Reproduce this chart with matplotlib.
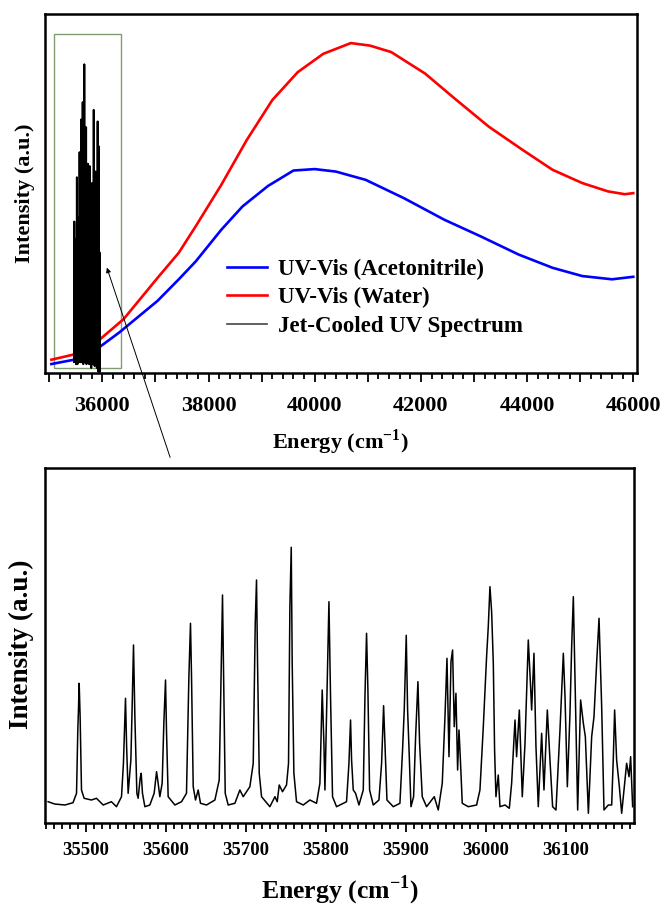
import matplotlib
matplotlib.use("Agg")
import matplotlib.pyplot as plt
from matplotlib.ticker import MultipleLocator, FuncFormatter
from matplotlib.patches import Rectangle

plt.rcParams['font.family'] = ['Liberation Serif', 'DejaVu Serif']
plt.rcParams['font.weight'] = 'bold'
plt.rcParams['mathtext.fontset'] = 'custom'
plt.rcParams['mathtext.rm'] = 'Liberation Serif:bold'
plt.rcParams['mathtext.bf'] = 'Liberation Serif:bold'

# UV-Vis absorption (a.u.)
acn_x = [35040, 35680, 36320, 37040, 37440, 37760, 38240, 38640, 39120, 39600, 40000,
         40400, 40960, 41680, 42440, 43120, 43840, 44480, 45040, 45600, 46000]
acn_y = [2.5, 4.3, 11.3, 20.1, 26.1, 31.1, 39.9, 46.4, 52.1, 56.4, 56.8,
         56.1, 53.8, 48.7, 42.7, 38.1, 33.0, 29.3, 27.0, 26.1, 26.8]

water_x = [35040, 35680, 36400, 37040, 37440, 37760, 38240, 38720, 39200, 39680, 40160, 40680,
           41040, 41440, 42080, 42640, 43280, 43920, 44480, 45040, 45520, 45840, 46000]
water_y = [3.7, 5.9, 15.0, 26.5, 33.5, 40.9, 52.4, 64.9, 76.0, 83.8, 88.9, 91.9,
           91.2, 89.4, 83.4, 76.4, 68.6, 62.1, 56.6, 52.9, 50.6, 49.8, 50.1]

# jet-cooled UV spectrum (energy in cm^-1, intensity a.u.)
spec_x = [
    35452.9, 35461.0, 35473.8, 35484.0, 35488.4, 35490.0, 35490.8, 35491.7, 35492.9, 35494.6, 35497.9,
    35507.0, 35513.3, 35521.7, 35532.0, 35538.3, 35544.6, 35547.0, 35549.6, 35551.0, 35552.9, 35556.3,
    35557.9, 35559.6, 35561.3, 35563.8, 35565.4, 35567.9, 35569.2, 35570.8, 35573.8, 35580.0, 35585.4,
    35588.4, 35590.4, 35592.5, 35595.4, 35597.5, 35599.6, 35600.8, 35602.9, 35611.3, 35619.6, 35625.8,
    35628.8, 35630.8, 35632.1, 35634.2, 35637.1, 35640.4, 35643.3, 35650.8, 35661.3, 35666.7, 35669.2,
    35670.8, 35672.1, 35674.2, 35677.9, 35686.3, 35692.5, 35696.7, 35705.0, 35709.2, 35711.7, 35713.3,
    35714.6, 35716.7, 35719.6, 35730.0, 35736.3, 35739.2, 35741.7, 35745.8, 35750.8, 35753.3, 35755.0,
    35756.7, 35757.9, 35760.0, 35763.3, 35771.7, 35780.0, 35788.3, 35792.5, 35795.4, 35797.5, 35798.8,
    35800.8, 35803.8, 35805.8, 35808.3, 35813.3, 35817.5, 35825.8, 35828.8, 35830.8, 35832.1, 35834.2,
    35837.1, 35841.3, 35846.7, 35848.8, 35850.8, 35852.5, 35854.6, 35859.2, 35866.3, 35869.6, 35872.1,
    35873.8, 35876.3, 35884.2, 35892.5, 35895.8, 35897.9, 35900.4, 35902.1, 35904.2, 35906.3, 35909.6,
    35912.1, 35915.0, 35917.1, 35920.4, 35925.8, 35935.4, 35940.4, 35945.4, 35948.8, 35951.3, 35953.8,
    35956.3, 35958.3, 35960.4, 35962.5, 35964.6, 35966.3, 35967.9, 35970.4, 35977.9, 35988.3, 35992.5,
    35996.7, 36000.8, 36002.9, 36005.0, 36007.1, 36009.2, 36010.8, 36012.5, 36015.4, 36017.5, 36023.8,
    36029.2, 36032.1, 36036.3, 36038.3, 36041.7, 36045.4, 36048.8, 36052.9, 36055.8, 36057.1, 36060.0,
    36062.5, 36065.4, 36069.6, 36072.5, 36076.7, 36080.0, 36083.3, 36087.5, 36092.5, 36096.7, 36098.8,
    36101.7, 36105.0, 36107.1, 36109.2, 36112.5, 36114.6, 36118.3, 36121.7, 36124.2, 36128.0, 36132.1,
    36135.0, 36138.3, 36141.3, 36144.6, 36147.5, 36152.9, 36157.1, 36159.2, 36160.8, 36163.3, 36166.7,
    36169.6, 36175.8, 36178.8, 36180.8, 36183.3]
spec_y = [
    21.3, 19, 18, 20.3, 29.7, 93, 113, 139.7, 106, 33, 24.7,
    23, 24.7, 18, 21.3, 16.3, 26.3, 59.7, 124.7, 76.3, 29.7, 63,
    116.3, 178, 106.3, 29.7, 24.7, 44.7, 49.7, 29.7, 16.3, 18, 29.7,
    51.3, 39.7, 26.3, 39.7, 99.7, 143, 93, 26.3, 18, 21.3, 29.7,
    146.3, 199.7, 146.3, 36.3, 23, 33, 19.7, 18, 23, 43, 159.7,
    228, 153, 29.7, 18, 19.7, 33, 26.3, 36.3, 59.7, 199.7, 243,
    159.7, 49.7, 26.3, 16.3, 26.3, 21.3, 38, 31.3, 38, 59.7, 216.3,
    275.7, 159.7, 49.7, 21.3, 18, 23, 19.7, 39.7, 133, 79.7, 33,
    109.7, 221.3, 126.3, 26.3, 16.3, 18, 21.3, 59.7, 103, 63, 33,
    29.7, 18, 33, 126.3, 189.7, 133, 33, 18, 23, 59.7, 117.3,
    79.7, 23, 16.3, 19.7, 73, 113, 187.7, 113, 66.3, 16.3, 26.3,
    86.3, 141.3, 79.7, 26.3, 16.3, 26.3, 13, 39.7, 106.3, 164.7, 66.3,
    161.3, 173, 96.3, 129.7, 53, 93, 66.3, 19.7, 16.3, 18, 33,
    96.3, 166.3, 196.3, 236.3, 211.3, 159.7, 73, 26.3, 48, 16.3, 18,
    14.7, 39.7, 103, 66.3, 113, 26.3, 79.7, 183, 136.3, 113, 169.7,
    76.3, 16.3, 89.7, 33, 113, 63, 16.3, 13, 93, 169.7, 126.3,
    36.3, 109.7, 176.3, 226.3, 93, 13, 123, 99.7, 86.3, 9.7, 86.3,
    106.3, 159.7, 204.7, 116.3, 13, 18, 18, 66.3, 113, 63, 36.3,
    9.7, 59.7, 46.3, 66.3, 16.3]

W, H = 663, 905
fig = plt.figure(figsize=(W / 100, H / 100), dpi=100)

def frame(ax, lw=1.8):
    for s in ax.spines.values():
        s.set_linewidth(lw)
    ax.set_yticks([])

######## top panel ########
ax1 = fig.add_axes([45 / W, 1 - 373 / H, 592 / W, 359 / H])
ax1.plot(acn_x, acn_y, color='#0000ff', lw=1.9)
ax1.plot(water_x, water_y, color='#ff0000', lw=1.9)
ax1.set_xlim(34920, 46070)
ax1.set_ylim(0, 100)
frame(ax1)
ax1.xaxis.set_major_locator(MultipleLocator(1000))
ax1.xaxis.set_minor_locator(MultipleLocator(200))
ax1.xaxis.set_major_formatter(FuncFormatter(lambda v, p: f"{v:.0f}" if v % 2000 == 0 else ""))
ax1.tick_params(axis='x', which='major', direction='out', length=6.5, width=1.3, labelsize=16, pad=10)
ax1.tick_params(axis='x', which='minor', direction='out', length=4.3, width=1.3)
ax1.add_patch(Rectangle((35081, 1.4), 36360 - 35081, 93.0, fill=False, edgecolor='#809d72', lw=1.0))

# squeezed copy of the jet-cooled spectrum inside the box
ins = fig.add_axes([72.7 / W, 1 - 373 / H, 27.8 / W, 359 / H])
ins.axis('off')
ins.patch.set_alpha(0)
jet, = ins.plot(spec_x, spec_y, color='black', lw=1.4)
ins.set_xlim(35449, 36185)
ins.set_ylim(8.7, 319.2)

fig.text(25 / W, 1 - 193 / H, 'Intensity (a.u.)', rotation=90, ha='center', va='center', fontsize=16, fontweight='bold')
fig.text(340 / W, 1 - 449 / H, r'Energy (cm$^{-1}$)', ha='center', va='baseline', fontsize=16, fontweight='bold')

leg = ax1.legend([ax1.lines[0], ax1.lines[1], jet],
                 ['UV-Vis (Acetonitrile)', 'UV-Vis (Water)', 'Jet-Cooled UV Spectrum'],
                 loc='upper left', bbox_to_anchor=(0.307, 0.318), frameon=False, fontsize=16.5,
                 handlelength=1.75, handletextpad=0.5, labelspacing=0.32, borderpad=0, borderaxespad=0)
leg.get_lines()[2].set_color('#444444')
leg.get_lines()[2].set_linewidth(1.2)

ax1.annotate('', xy=(106 / W, 1 - 265 / H), xycoords='figure fraction',
             xytext=(171 / W, 1 - 460 / H), textcoords='figure fraction',
             arrowprops=dict(arrowstyle='-|>', color='black', lw=0.7, mutation_scale=7),
             annotation_clip=False)

######## bottom panel ########
ax2 = fig.add_axes([45 / W, 1 - 823 / H, 589 / W, 355 / H])
ax2.plot(spec_x, spec_y, color='black', lw=1.1)
ax2.set_xlim(35449, 36185)
ax2.set_ylim(0, 355)
frame(ax2)
ax2.xaxis.set_major_locator(MultipleLocator(100))
ax2.xaxis.set_minor_locator(MultipleLocator(10))
ax2.tick_params(axis='x', which='major', direction='out', length=6.5, width=1.3, labelsize=13.5, pad=7)
ax2.tick_params(axis='x', which='minor', direction='out', length=4.3, width=1.3)

fig.text(21 / W, 1 - 644 / H, 'Intensity (a.u.)', rotation=90, ha='center', va='center', fontsize=19.5, fontweight='bold')
fig.text(340 / W, 1 - 898 / H, r'Energy (cm$^{-1}$)', ha='center', va='baseline', fontsize=18.5, fontweight='bold')

fig.savefig('out.png', dpi=100)
